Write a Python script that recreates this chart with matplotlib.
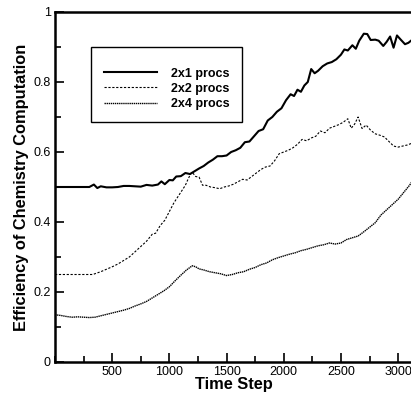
import matplotlib.pyplot as plt
from matplotlib.ticker import MultipleLocator

plt.rcParams['font.family'] = ['Liberation Sans', 'DejaVu Sans']

# 2x1 procs
steps_2x1 = [0, 300, 340, 370, 400, 450, 500, 550, 600, 650, 700, 750, 800, 850, 900, 930,
             960, 1000, 1030, 1060, 1100, 1140, 1180, 1220, 1260, 1300, 1340, 1380, 1420,
             1460, 1500, 1540, 1580, 1620, 1660, 1700, 1740, 1780, 1820, 1860, 1900, 1940,
             1980, 2020, 2060, 2090, 2120, 2150, 2180, 2210, 2240, 2270, 2300, 2340, 2380,
             2420, 2460, 2500, 2530, 2560, 2600, 2630, 2660, 2700, 2730, 2760, 2800, 2830,
             2870, 2900, 2930, 2960, 2990, 3020, 3060, 3090, 3120]
eff_2x1 = [0.500, 0.500, 0.507, 0.497, 0.502, 0.499, 0.499, 0.500, 0.503, 0.503, 0.502,
           0.501, 0.506, 0.504, 0.507, 0.516, 0.508, 0.520, 0.519, 0.530, 0.531, 0.540,
           0.537, 0.545, 0.553, 0.560, 0.570, 0.578, 0.588, 0.588, 0.590, 0.600, 0.605,
           0.612, 0.628, 0.630, 0.645, 0.660, 0.665, 0.690, 0.700, 0.715, 0.725, 0.748,
           0.765, 0.760, 0.778, 0.772, 0.790, 0.800, 0.837, 0.825, 0.832, 0.845, 0.853,
           0.857, 0.865, 0.878, 0.893, 0.890, 0.905, 0.895, 0.918, 0.938, 0.937, 0.920,
           0.921, 0.918, 0.903, 0.915, 0.930, 0.898, 0.933, 0.922, 0.908, 0.912, 0.920]

# 2x2 procs
steps_2x2 = [0, 330, 400, 450, 500, 550, 600, 650, 700, 750, 800, 850, 880, 920, 960, 1000,
             1040, 1080, 1110, 1140, 1160, 1185, 1200, 1230, 1260, 1290, 1320, 1360, 1400,
             1440, 1480, 1520, 1560, 1600, 1640, 1680, 1720, 1760, 1800, 1840, 1880, 1920,
             1960, 2000, 2040, 2080, 2120, 2160, 2200, 2240, 2280, 2320, 2360, 2400, 2440,
             2480, 2520, 2560, 2590, 2620, 2650, 2685, 2720, 2760, 2800, 2840, 2880, 2920,
             2960, 3000, 3040, 3080, 3120]
eff_2x2 = [0.250, 0.250, 0.258, 0.265, 0.272, 0.280, 0.290, 0.300, 0.315, 0.330, 0.345,
           0.365, 0.368, 0.390, 0.405, 0.430, 0.455, 0.475, 0.490, 0.505, 0.520, 0.537,
           0.542, 0.530, 0.528, 0.505, 0.505, 0.500, 0.498, 0.495, 0.500, 0.503, 0.508,
           0.515, 0.522, 0.520, 0.530, 0.540, 0.550, 0.557, 0.560, 0.575, 0.595, 0.600,
           0.605, 0.612, 0.622, 0.636, 0.632, 0.640, 0.645, 0.660, 0.655, 0.668, 0.673,
           0.678, 0.685, 0.695, 0.668, 0.680, 0.700, 0.667, 0.677, 0.662, 0.652, 0.648,
           0.643, 0.630, 0.617, 0.614, 0.617, 0.620, 0.625]

# 2x4 procs
steps_2x4 = [0, 50, 100, 150, 200, 250, 300, 350, 400, 450, 500, 550, 600, 650, 700, 750,
             800, 850, 900, 950, 1000, 1050, 1100, 1150, 1200, 1230, 1260, 1300, 1350, 1400,
             1450, 1500, 1550, 1600, 1650, 1700, 1750, 1800, 1850, 1900, 1950, 2000, 2050,
             2100, 2150, 2200, 2250, 2300, 2350, 2400, 2450, 2500, 2550, 2600, 2650, 2700,
             2750, 2800, 2850, 2900, 2950, 3000, 3050, 3100, 3120]
eff_2x4 = [0.135, 0.133, 0.130, 0.128, 0.129, 0.128, 0.127, 0.128, 0.132, 0.136, 0.140,
           0.144, 0.148, 0.153, 0.160, 0.166, 0.173, 0.183, 0.193, 0.203, 0.215, 0.232,
           0.248, 0.263, 0.275, 0.272, 0.266, 0.263, 0.258, 0.255, 0.252, 0.247, 0.250,
           0.255, 0.258, 0.265, 0.270, 0.278, 0.283, 0.292, 0.298, 0.303, 0.308, 0.312,
           0.318, 0.322, 0.327, 0.332, 0.335, 0.340, 0.337, 0.340, 0.350, 0.355, 0.360,
           0.372, 0.385, 0.398, 0.420, 0.435, 0.450, 0.465, 0.485, 0.505, 0.515]

fig = plt.figure(figsize=(4.11, 3.94), dpi=100)
ax = fig.add_axes([55 / 411, 32 / 394, 358 / 411, 350 / 394])

ax.plot(steps_2x1, eff_2x1, color='black', lw=1.5, label='2x1 procs')
ax.plot(steps_2x2, eff_2x2, color='black', lw=0.8, dashes=(2, 1.5), label='2x2 procs')
ax.plot(steps_2x4, eff_2x4, color='black', lw=1.0, dashes=(1, 0.5), label='2x4 procs')

ax.set_xlim(0, 3130)
ax.set_ylim(0, 1)
ax.xaxis.set_minor_locator(MultipleLocator(250))
ax.yaxis.set_minor_locator(MultipleLocator(0.1))
ax.set_xticks([500, 1000, 1500, 2000, 2500, 3000])
ax.set_yticks([0, 0.2, 0.4, 0.6, 0.8, 1])
ax.set_yticklabels(['0', '0.2', '0.4', '0.6', '0.8', '1'])
ax.tick_params(which='both', direction='in', width=1.2, labelsize=9, top=False, right=False)
ax.tick_params(which='major', length=6.5, pad=3)
ax.tick_params(which='minor', length=4)

for side in ['left', 'bottom', 'top']:
    ax.spines[side].set_linewidth(1.8)
ax.spines['right'].set_visible(False)

ax.set_xlabel('Time Step', fontsize=11.8, fontweight='bold', labelpad=-1)
ax.set_ylabel('Efficiency of Chemistry Computation', fontsize=11.8, fontweight='bold', labelpad=3)

leg = ax.legend(loc='upper left', bbox_to_anchor=(0.1006, 0.9), borderaxespad=0,
                fancybox=False, edgecolor='black', framealpha=1, borderpad=1.0,
                handlelength=4.3, handletextpad=1.1, labelspacing=0.25, title=' ',
                title_fontsize=4, prop={'weight': 'bold', 'size': 9})
leg.get_frame().set_linewidth(1.0)

fig.savefig('out.png', dpi=100)
